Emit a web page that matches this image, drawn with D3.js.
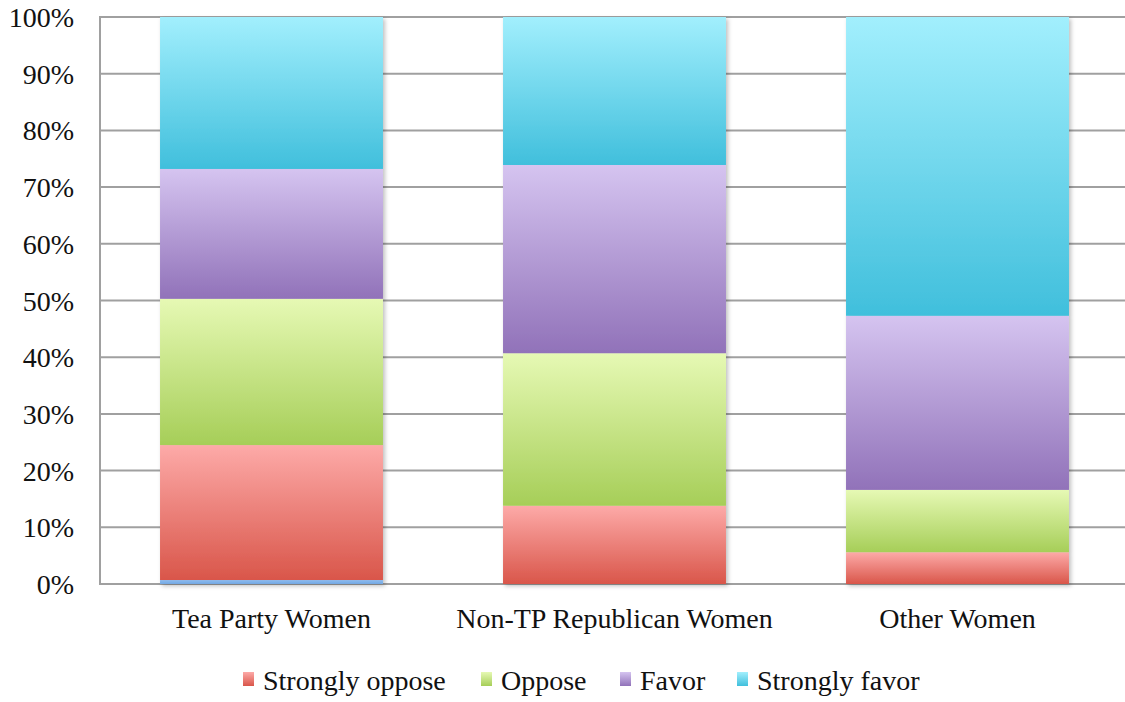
<!DOCTYPE html>
<html lang="en">
<head>
    <meta charset="UTF-8">
    <title>Tea Party Women</title>
    <script src="https://cdnjs.cloudflare.com/ajax/libs/d3/7.8.5/d3.min.js"></script>
    <style>
        body { margin: 0; background: #fff; }
        svg text { font-family: "Liberation Serif", "DejaVu Serif", serif; fill: #111; }
    </style>
</head>
<body>
<div id="chart"></div>
<script>
    var width = 1125;
    var height = 702;

    // data (percent of each group)
    var groups = ["Tea Party Women", "Non-TP Republican Women", "Other Women"];
    var seriesNames = ["No answer", "Strongly oppose", "Oppose", "Favor", "Strongly favor"];
    var noAnswer = [0.7, 0, 0];
    var stronglyOppose = [23.8, 13.8, 5.6];
    var oppose = [25.8, 26.9, 11.0];
    var favor = [22.9, 33.2, 30.7];
    var stronglyFavor = [26.8, 26.1, 52.7];
    var yTicks = [0, 10, 20, 30, 40, 50, 60, 70, 80, 90, 100];
    var legendNames = ["Strongly oppose", "Oppose", "Favor", "Strongly favor"];

    // top / bottom colours of each segment's gradient
    var colours = {
        "No answer": ["#8cbcf0", "#74a8e2"],
        "Strongly oppose": ["#fdaaa8", "#d9564a"],
        "Oppose": ["#e6f9b4", "#a6ce58"],
        "Favor": ["#d5c4f0", "#9172b9"],
        "Strongly favor": ["#a2effd", "#40bfdc"]
    };

    var rows = groups.map(function (g, i) {
        return {
            group: g,
            "No answer": noAnswer[i],
            "Strongly oppose": stronglyOppose[i],
            "Oppose": oppose[i],
            "Favor": favor[i],
            "Strongly favor": stronglyFavor[i]
        };
    });
    var stacked = d3.stack().keys(seriesNames)(rows);

    var svg = d3.select("#chart").append("svg")
        .attr("width", width)
        .attr("height", height);

    var defs = svg.append("defs");
    seriesNames.forEach(function (s, i) {
        var grad = defs.append("linearGradient")
            .attr("id", "grad" + i)
            .attr("x1", 0).attr("y1", 0).attr("x2", 0).attr("y2", 1);
        grad.append("stop").attr("offset", "0%").attr("stop-color", colours[s][0]);
        grad.append("stop").attr("offset", "100%").attr("stop-color", colours[s][1]);
    });
    var shadow = defs.append("filter").attr("id", "shadow")
        .attr("x", "-10%").attr("y", "-10%").attr("width", "120%").attr("height", "120%");
    shadow.append("feDropShadow")
        .attr("dx", 2).attr("dy", 2).attr("stdDeviation", 2)
        .attr("flood-color", "#000").attr("flood-opacity", 0.25);

    var x = d3.scaleBand()
        .domain(groups)
        .range([100, 1129])
        .paddingInner(0.35)
        .paddingOuter(0.175);

    var y = d3.scaleLinear()
        .domain([0, 100])
        .range([584, 17]);

    // gridlines
    svg.append("g").selectAll("line")
        .data(yTicks)
        .enter().append("line")
        .attr("x1", 100).attr("x2", width)
        .attr("y1", function (d) { return y(d); })
        .attr("y2", function (d) { return y(d); })
        .attr("stroke", "#a0a0a0")
        .attr("stroke-width", 2);

    // left axis line
    svg.append("line")
        .attr("x1", 100).attr("x2", 100)
        .attr("y1", y(100) - 1).attr("y2", y(0) + 1)
        .attr("stroke", "#a0a0a0")
        .attr("stroke-width", 2);

    // y labels
    svg.append("g").selectAll("text")
        .data(yTicks)
        .enter().append("text")
        .attr("x", 74)
        .attr("y", function (d) { return y(d); })
        .attr("dy", "0.36em")
        .attr("text-anchor", "end")
        .attr("font-size", 28)
        .text(function (d) { return d + "%"; });

    // bars
    var barG = svg.append("g").attr("filter", "url(#shadow)");
    stacked.forEach(function (layer, i) {
        barG.append("g").selectAll("rect")
            .data(layer.filter(function (d) { return d[1] - d[0] > 0; }))
            .enter().append("rect")
            .attr("x", function (d) { return x(d.data.group); })
            .attr("width", x.bandwidth())
            .attr("y", function (d) { return y(d[1]); })
            .attr("height", function (d) { return y(d[0]) - y(d[1]); })
            .attr("fill", "url(#grad" + i + ")");
    });

    // category labels
    svg.append("g").selectAll("text")
        .data(groups)
        .enter().append("text")
        .attr("x", function (d) { return x(d) + x.bandwidth() / 2; })
        .attr("y", 628)
        .attr("text-anchor", "middle")
        .attr("font-size", 28)
        .text(function (d) { return d; });

    // legend
    var legendX = [243, 481, 620, 737];
    var legend = svg.append("g").selectAll("g")
        .data(legendNames)
        .enter().append("g")
        .attr("transform", function (d, i) { return "translate(" + legendX[i] + ",0)"; });
    legend.append("rect")
        .attr("x", 0).attr("y", 672)
        .attr("width", 11).attr("height", 14)
        .attr("fill", function (d) { return "url(#grad" + seriesNames.indexOf(d) + ")"; });
    legend.append("text")
        .attr("x", 20).attr("y", 690)
        .attr("font-size", 28)
        .text(function (d) { return d; });
</script>
</body>
</html>
